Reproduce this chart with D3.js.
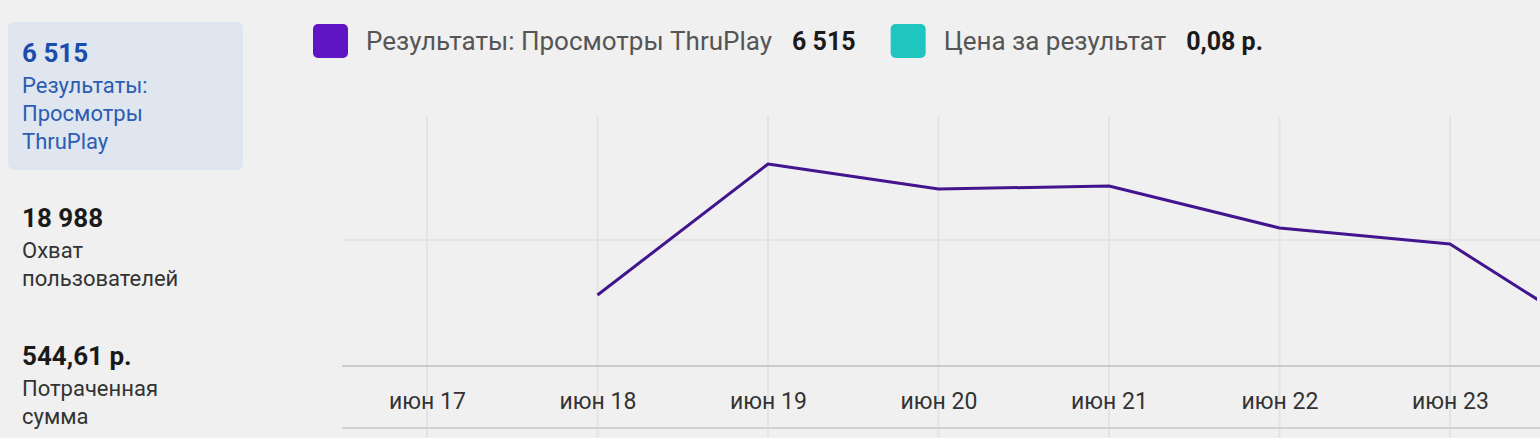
<!DOCTYPE html>
<html>
<head>
<meta charset="utf-8">
<script src="https://cdn.jsdelivr.net/npm/d3@7"></script>
<style>
  html, body { margin: 0; padding: 0; background: #f0f0f0; }
  svg { display: block; }
</style>
</head>
<body>
<svg id="chart" width="1540" height="438"></svg>
<script>
// ---- data ----
const dates = ["2023-06-17","2023-06-18","2023-06-19","2023-06-20","2023-06-21","2023-06-22","2023-06-23","2023-06-24"];
const tickLabels = ["июн 17","июн 18","июн 19","июн 20","июн 21","июн 22","июн 23"];
const thruPlay = [null, 507, 1443, 1264, 1286, 986, 871, 100];
const yGrid = [0, 900];
const legendItems = [
  { label: "Результаты: Просмотры ThruPlay", value: "6 515", color: "#6015c4" },
  { label: "Цена за результат", value: "0,08 р.", color: "#1fc6c0" }
];
const summary = [
  { value: "6 515", lines: ["Результаты:", "Просмотры", "ThruPlay"], active: true },
  { value: "18 988", lines: ["Охват", "пользователей"], active: false },
  { value: "544,61 р.", lines: ["Потраченная", "сумма"], active: false }
];

const svg = d3.select("#chart");
const W = 1540, H = 438;
svg.append("rect").attr("width", W).attr("height", H).attr("fill", "#f0f0f0");
const FONT = "Roboto, 'Noto Sans', sans-serif";

// ---- left summary panel ----
const panel = svg.append("g");
panel.append("rect").attr("x", 8).attr("y", 22).attr("width", 235).attr("height", 148)
  .attr("rx", 6).attr("fill", "#dfe6ef");
const blockY = [53, 218, 356];
summary.forEach((s, i) => {
  const g = panel.append("g").attr("transform", `translate(22,${blockY[i]})`);
  g.append("text").text(s.value).attr("y", 0).attr("dy", "0.35em")
    .attr("font-family", FONT).attr("font-size", 26).attr("font-weight", 700)
    .attr("fill", s.active ? "#1b4cab" : "#1a1a1a");
  s.lines.forEach((l, j) => {
    g.append("text").text(l).attr("y", 32 + j * 28).attr("dy", "0.35em")
      .attr("font-family", FONT).attr("font-size", 22)
      .attr("fill", s.active ? "#2d5cb3" : "#333");
  });
});

// ---- scales ----
const parse = d3.timeParse("%Y-%m-%d");
const data = dates.map((d, i) => ({ date: parse(d), v: thruPlay[i] }));
const x = d3.scaleTime()
  .domain([parse(dates[0]), parse(dates[6])])
  .range([427, 1450]);
const y = d3.scaleLinear().domain([0, 1800]).range([366, 114]);

// ---- grid ----
const grid = svg.append("g");
grid.selectAll("line.v").data(data.slice(0, 7)).join("line")
  .attr("x1", d => x(d.date)).attr("x2", d => x(d.date))
  .attr("y1", 116).attr("y2", H)
  .attr("stroke", "#e4e4e4").attr("stroke-width", 2);
grid.selectAll("line.h").data(yGrid.filter(v => v > 0)).join("line")
  .attr("x1", 342).attr("x2", W).attr("y1", d => y(d)).attr("y2", d => y(d))
  .attr("stroke", "#e5e5e5").attr("stroke-width", 2);

// ---- x axis ----
const xAxis = d3.axisBottom(x)
  .tickValues(data.slice(0, 7).map(d => d.date))
  .tickFormat((d, i) => tickLabels[i])
  .tickSize(0).tickPadding(27);
const ax = svg.append("g").attr("transform", `translate(0,${y(0)})`).call(xAxis);
ax.select(".domain").remove();
ax.selectAll("text").attr("font-family", FONT).attr("font-size", 23).attr("fill", "#333");
svg.append("line").attr("x1", 342).attr("x2", W).attr("y1", y(0)).attr("y2", y(0))
  .attr("stroke", "#cacaca").attr("stroke-width", 2);
svg.append("line").attr("x1", 342).attr("x2", W).attr("y1", 428).attr("y2", 428)
  .attr("stroke", "#d2d2d2").attr("stroke-width", 2);

// ---- line ----
svg.append("clipPath").attr("id", "clip").append("rect")
  .attr("x", 342).attr("y", 0).attr("width", 1537 - 342).attr("height", H);
const line = d3.line().defined(d => d.v != null).x(d => x(d.date)).y(d => y(d.v));
svg.append("path").datum(data).attr("clip-path", "url(#clip)")
  .attr("d", line).attr("fill", "none")
  .attr("stroke", "#42148e").attr("stroke-width", 3).attr("stroke-linejoin", "round");

// ---- legend ----
const leg = svg.append("g").attr("transform", "translate(313,41)");
let lx = 0;
legendItems.forEach(it => {
  const g = leg.append("g").attr("transform", `translate(${lx},0)`);
  g.append("rect").attr("x", 0).attr("y", -17).attr("width", 35).attr("height", 34)
    .attr("rx", 5).attr("fill", it.color);
  const t1 = g.append("text").text(it.label).attr("x", 53).attr("dy", "0.35em")
    .attr("font-family", FONT).attr("font-size", 26).attr("fill", "#555");
  const w1 = t1.node().getComputedTextLength();
  const t2 = g.append("text").text(it.value).attr("x", 53 + w1 + 20).attr("dy", "0.35em")
    .attr("font-family", FONT).attr("font-size", 25).attr("font-weight", 700).attr("fill", "#1a1a1a");
  const w2 = t2.node().getComputedTextLength();
  lx += 53 + w1 + 20 + w2 + 35;
});
</script>
</body>
</html>
